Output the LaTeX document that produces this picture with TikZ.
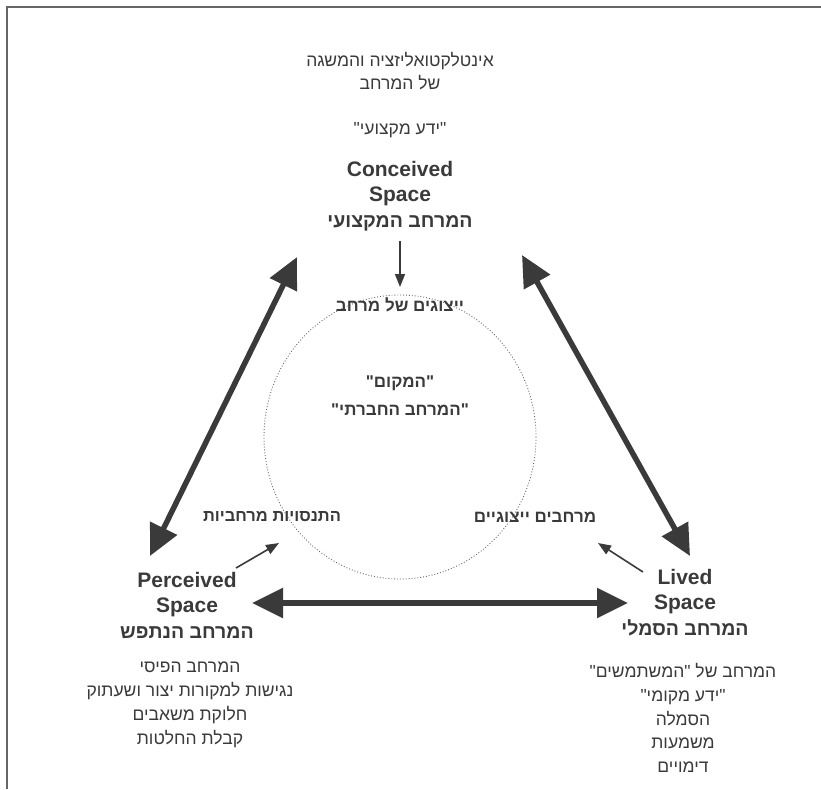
\documentclass[tikz,border=0pt]{standalone}
\usepackage{fontspec}
\setmainfont{Liberation Sans}
\newfontfamily\heb[Script=Hebrew]{Liberation Sans}
\TeXXeTstate=1
\usetikzlibrary{arrows.meta}
\definecolor{ink}{HTML}{3A3A3A}
\definecolor{txt}{HTML}{3A3A3A}
\newcommand{\hb}[1]{{\heb\beginR #1\endR}}
\newcommand{\hbt}[1]{{\fontsize{19.5}{25}\selectfont\heb\beginR #1\endR}}
\tikzset{
  reg/.style={align=center, text=txt, inner sep=0pt, font=\fontsize{17.5}{23.8}\selectfont},
  boldt/.style={align=center, text=txt, inner sep=0pt, font=\bfseries\fontsize{21}{25}\selectfont},
  boldh/.style={align=center, text=txt, inner sep=0pt, font=\bfseries\fontsize{17}{28}\selectfont},
  bigarrow/.style={draw=ink, line width=5.5pt, {Triangle[length=31pt,width=29pt]}-{Triangle[length=31pt,width=29pt]}},
  smallarrow/.style={draw=ink, line width=1.6pt, -{Triangle[length=13pt,width=10pt]}},
  frameline/.style={draw=black!60, line width=1.8pt}
}
\begin{document}
\begin{tikzpicture}[x=1pt,y=-1pt]
\useasboundingbox (0,0) rectangle (821,789);
% frame
\coordinate (fTL) at (7,7);
\coordinate (fTR) at (821,7);
\coordinate (fBL) at (7,789);
\draw[frameline] (fTR) -- (fTL) -- (fBL);

% top texts
\node[reg] (intel) at (400,71) {\hb{אינטלקטואליזציה והמשגה}\\\hb{של המרחב}};
\node[reg] (yeda) at (400,130) {\hb{"ידע מקצועי"}};
\node[boldt] (conc) at (400,196) {Conceived\\Space\\[1pt]\hbt{המרחב המקצועי}};

% circle
\draw[black!60, dotted, line width=0.9pt] (400,437) ellipse [x radius=136, y radius=142];
\node[boldh] (repr) at (400,305) {\hb{ייצוגים של מרחב}};
\node[boldh] (place) at (400,396) {\hb{"המקום"}\\\hb{"המרחב החברתי"}};
\node[boldh, font=\bfseries\fontsize{16.5}{20}\selectfont] (exper) at (272,517) {\hb{התנסויות מרחביות}};
\node[boldh] (rspace) at (535,517) {\hb{מרחבים ייצוגיים}};

% corners
\node[boldt] (perc) at (187,605) {Perceived\\Space\\[1pt]\hbt{המרחב הנתפש}};
\node[boldt] (lived) at (685,603) {Lived\\Space\\[1pt]\hbt{המרחב הסמלי}};

\node[reg] (plist) at (190,705) {\hb{המרחב הפיסי}\\\hb{נגישות למקורות יצור ושעתוק}\\\hb{חלוקת משאבים}\\\hb{קבלת החלטות}};
\node[reg] (llist) at (683,718) {\hb{המרחב של "המשתמשים"}\\\hb{"ידע מקומי"}\\\hb{הסמלה}\\\hb{משמעות}\\\hb{דימויים}};

% arrow end points
\coordinate (cL) at (297,257);
\coordinate (cR) at (522,255);
\coordinate (pT) at (150,556);
\coordinate (pR) at (252,603);
\coordinate (lT) at (690,556);
\coordinate (lL) at (628,603);
\draw[bigarrow] (cL) -- (pT);
\draw[bigarrow] (cR) -- (lT);
\draw[bigarrow] (pR) -- (lL);

\coordinate (c0) at (400,241);
\coordinate (c1) at (400,287);
\coordinate (p0) at (236,568);
\coordinate (p1) at (279,543);
\coordinate (l0) at (643,572);
\coordinate (l1) at (598,543);
\draw[smallarrow] (c0) -- (c1);
\draw[smallarrow] (p0) -- (p1);
\draw[smallarrow] (l0) -- (l1);
\end{tikzpicture}
\end{document}
